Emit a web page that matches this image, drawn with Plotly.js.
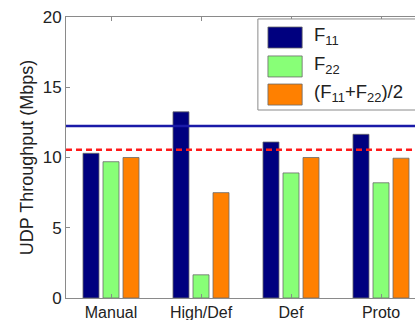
<!DOCTYPE html>
<html>
<head>
<meta charset="utf-8">
<script src="https://cdn.plot.ly/plotly-3.0.1.min.js"></script>
<style>
html,body{margin:0;padding:0;overflow:hidden;background:#fff;}
#chart{width:430px;height:320px;}
</style>
</head>
<body>
<div id="chart"></div>
<script>
// ---- data ----
const categories = ["Manual", "High/Def", "Def", "Proto"];
const seriesNames = ["F<sub>11</sub>", "F<sub>22</sub>", "(F<sub>11</sub>+F<sub>22</sub>)/2"];
const f11 = [10.3, 13.25, 11.1, 11.65];
const f22 = [9.7, 1.65, 8.9, 8.2];
const avg = [10.0, 7.5, 10.0, 9.95];
const blueRef = 12.25;
const redRef = 10.55;
const yTicks = [0, 5, 10, 15, 20];

const colors = ["#00007f", "#88ff77", "#ff8000"];
const xIdx = categories.map((_, i) => i);

const barLine = {color: "#6a6a6a", width: 0.8};
const traces = [f11, f22, avg].map((vals, k) => ({
  type: "bar", x: xIdx, y: vals, name: seriesNames[k],
  marker: {color: colors[k], line: barLine}, showlegend: false, hoverinfo: "skip"
}));
traces.push({type: "scatter", mode: "lines", x: [-0.5, 3.5], y: [blueRef, blueRef],
  line: {color: "#1a1aa8", width: 2.5}, showlegend: false, hoverinfo: "skip"});
traces.push({type: "scatter", mode: "lines", x: [-0.5, 3.5], y: [redRef, redRef],
  line: {color: "#ff1a1a", width: 2.6, dash: "6px,4px"}, showlegend: false, hoverinfo: "skip"});

// custom legend (large swatches like the original)
const lgShapes = [{type: "rect", xref: "paper", yref: "paper", x0: 0.533, x1: 1.2, y0: 0.669, y1: 0.993,
  line: {color: "#8a8a8a", width: 1}, fillcolor: "#ffffff", layer: "above"}];
const lgAnn = [];
const rowY = [0.927, 0.824, 0.724];
const sh = 0.0374;
seriesNames.forEach((n, k) => {
  lgShapes.push({type: "rect", xref: "paper", yref: "paper", x0: 0.561, x1: 0.656,
    y0: rowY[k] - sh, y1: rowY[k] + sh, fillcolor: colors[k], line: {color: "#6a6a6a", width: 0.8}, layer: "above"});
  lgAnn.push({xref: "paper", yref: "paper", x: 0.683, y: rowY[k] + 0.004, xanchor: "left", yanchor: "middle",
    text: n, showarrow: false, font: {family: "Liberation Sans, Arial, sans-serif", size: 18.5, color: "#222"}});
});

const layout = {
  width: 430, height: 320,
  margin: {l: 66, r: 4, t: 17, b: 22},
  paper_bgcolor: "#fff", plot_bgcolor: "#fff",
  font: {family: "Liberation Sans, Arial, sans-serif", color: "#222"},
  barmode: "group", bargap: 0.333, bargroupgap: 0.2,
  xaxis: {range: [-0.5, 3.5], tickvals: xIdx, ticktext: categories, showgrid: false, zeroline: false,
    showline: true, linecolor: "#8a8a8a", linewidth: 1, mirror: "ticks", ticks: "inside", ticklen: 4,
    tickcolor: "#8a8a8a", tickfont: {size: 16, color: "#222"}, automargin: false, fixedrange: true},
  yaxis: {range: [0, 20], tickvals: yTicks, showgrid: false, zeroline: false,
    showline: true, linecolor: "#8a8a8a", linewidth: 1, mirror: "ticks", ticks: "inside", ticklen: 4,
    tickcolor: "#8a8a8a", tickfont: {size: 17, color: "#222"}, automargin: true, fixedrange: true,
    title: {text: "UDP Throughput (Mbps)", font: {size: 18, color: "#222"}, standoff: 4}},
  shapes: lgShapes,
  annotations: lgAnn
};

Plotly.newPlot("chart", traces, layout, {displayModeBar: false, staticPlot: true});
</script>
</body>
</html>
